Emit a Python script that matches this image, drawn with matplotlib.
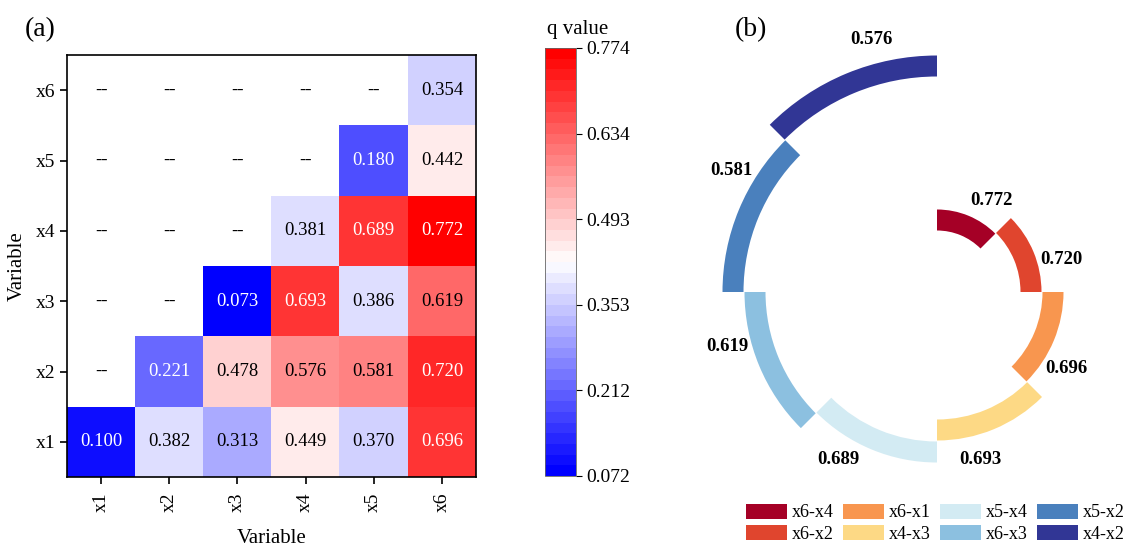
import numpy as np
import matplotlib
matplotlib.use("Agg")
import matplotlib.pyplot as plt
from matplotlib.patches import Patch

plt.rcParams['font.family'] = 'serif'
plt.rcParams['font.serif'] = ['Liberation Serif', 'DejaVu Serif']

# ---- data ----
variables = ['x1', 'x2', 'x3', 'x4', 'x5', 'x6']
# rows x1..x6 (bottom to top), columns x1..x6, None = not computed
q_x1 = [0.100, 0.382, 0.313, 0.449, 0.370, 0.696]
q_x2 = [None, 0.221, 0.478, 0.576, 0.581, 0.720]
q_x3 = [None, None, 0.073, 0.693, 0.386, 0.619]
q_x4 = [None, None, None, 0.381, 0.689, 0.772]
q_x5 = [None, None, None, None, 0.180, 0.442]
q_x6 = [None, None, None, None, None, 0.354]
q_min, q_max = 0.072, 0.774

pairs = ['x6-x4', 'x6-x2', 'x6-x1', 'x4-x3', 'x5-x4', 'x6-x3', 'x5-x2', 'x4-x2']
pair_q = [0.772, 0.720, 0.696, 0.693, 0.689, 0.619, 0.581, 0.576]
pair_colors = ['#a50026', '#e0452e', '#f8964f', '#fdd985',
               '#d3ebf3', '#8cc0e0', '#4a80bd', '#313695']

W, H = 1136, 548
fig = plt.figure(figsize=(W / 100, H / 100), dpi=100)

# ---- (a) heatmap ----
rows = [q_x1, q_x2, q_x3, q_x4, q_x5, q_x6]
mat = np.array([[np.nan if v is None else v for v in r] for r in rows])

ax = fig.add_axes([67 / W, 71 / H, 409 / W, 422 / H])
cmap = plt.get_cmap('bwr', 40).copy()
cmap.set_bad('white')
im = ax.imshow(np.ma.masked_invalid(mat), cmap=cmap, vmin=q_min, vmax=q_max,
               origin='lower', aspect='auto', extent=(-0.5, 5.5, -0.5, 5.5))

for i in range(6):
    for j in range(6):
        v = mat[i, j]
        if np.isnan(v):
            ax.text(j, i, '--', ha='center', va='center', fontsize=13.5, color='black')
        else:
            col = 'white' if (v < 0.25 or v > 0.65) else 'black'
            ax.text(j, i, f'{v:.3f}', ha='center', va='center', fontsize=13.5, color=col)

ax.set_xticks(range(6))
ax.set_xticklabels(variables, rotation=90, fontsize=14)
ax.set_yticks(range(6))
ax.set_yticklabels(variables, fontsize=14)
ax.tick_params(length=5, width=1.2)
ax.tick_params(axis='x', pad=6)
ax.set_xlabel('Variable', fontsize=15, labelpad=12)
ax.set_ylabel('Variable', fontsize=15, labelpad=6)
for s in ax.spines.values():
    s.set_linewidth(1.2)
fig.text(25 / W, 1 - 30 / H, '(a)', fontsize=20, va='center', ha='left')

cax = fig.add_axes([545 / W, 72 / H, 31 / W, 428 / H])
cb = fig.colorbar(im, cax=cax)
cb.set_ticks(np.linspace(q_min, q_max, 6))
cb.set_ticklabels([f'{t:.3f}' for t in np.linspace(q_min, q_max, 6)])
cb.ax.tick_params(labelsize=14, length=4, width=0.8)
cb.outline.set_linewidth(0.6)
cb.outline.set_edgecolor('#666666')
cax.text(0.05, 1.022, 'q value', transform=cax.transAxes, fontsize=15,
         ha='left', va='bottom')

# ---- (b) spiral bars ----
R = 280
cx, cy = 937, H - 292
pax = fig.add_axes([(cx - R) / W, (cy - R) / H, 2 * R / W, 2 * R / H], projection='polar')
pax.set_theta_zero_location('N')
pax.set_theta_direction(-1)
pax.set_ylim(0, R)
pax.axis('off')

n = len(pair_q)
step = np.deg2rad(360 / n)
thick = 21
for i, (q, c) in enumerate(zip(pair_q, pair_colors)):
    r_mid = 72 + 22 * i
    theta = step * (i + 0.5)
    pax.bar(theta, thick, width=step, bottom=r_mid - thick / 2, color=c,
            align='center', linewidth=0)
    pax.text(theta + np.deg2rad(8), r_mid + thick / 2 + 24, f'{q:.3f}',
             ha='center', va='center', fontsize=13.5, fontweight='bold')

fig.text(735 / W, 1 - 30 / H, '(b)', fontsize=20, va='center', ha='left')

handles = [Patch(facecolor=c, edgecolor='none', label=p) for p, c in zip(pairs, pair_colors)]
fig.legend(handles=handles, ncol=4, loc='lower center', bbox_to_anchor=(935 / W, -0.02),
           frameon=False, fontsize=13, handlelength=2.3, handleheight=0.9,
           handletextpad=0.25, columnspacing=0.5, labelspacing=0.2)

fig.savefig('out.png', dpi=100)
